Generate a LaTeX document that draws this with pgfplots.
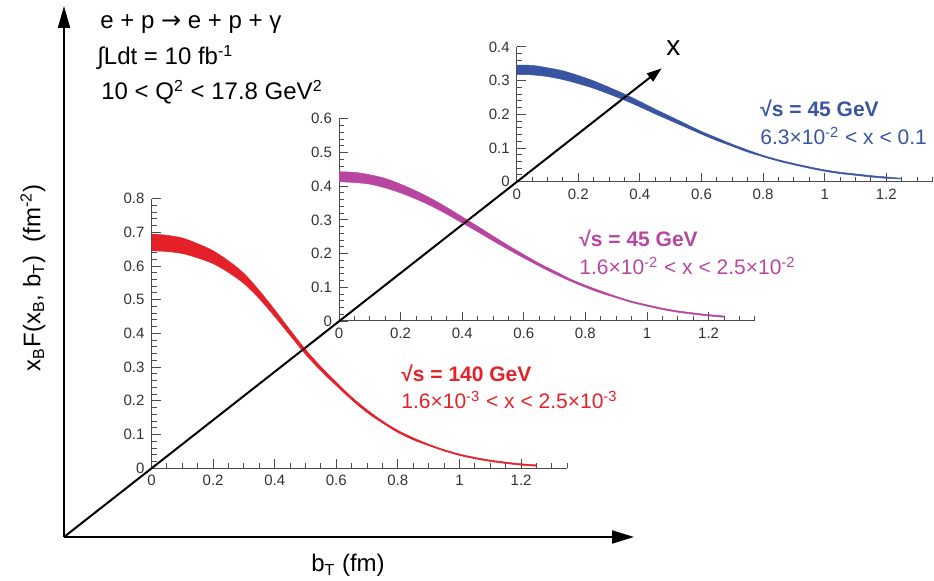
\documentclass[border=0pt]{standalone}
\usepackage{fontspec}
\setmainfont{Liberation Sans}
\newfontfamily\dejavu{DejaVu Sans}
\usepackage{pgfplots}
\pgfplotsset{compat=1.18}
\usepackage{pgfplotstable}
\usepgfplotslibrary{fillbetween}
\usetikzlibrary{arrows.meta}
\definecolor{cred}{RGB}{228,32,40}
\definecolor{cmag}{RGB}{184,70,160}
\definecolor{cblue}{RGB}{58,84,164}

% sqrt(s)=140 GeV, 1.6e-3 < x < 2.5e-3
\pgfplotstableread{
x lo hi
0 0.645 0.695
0.05 0.643 0.691
0.1 0.637 0.683
0.15 0.624 0.666
0.2 0.607 0.645
0.25 0.581 0.615
0.3 0.548 0.578
0.35 0.503 0.527
0.4 0.450 0.470
0.45 0.394 0.410
0.5 0.338 0.352
0.55 0.289 0.301
0.6 0.245 0.255
0.65 0.203 0.211
0.7 0.165 0.173
0.75 0.134 0.140
0.8 0.106 0.112
0.85 0.084 0.090
0.9 0.067 0.071
0.95 0.051 0.055
1.0 0.038 0.042
1.05 0.028 0.032
1.1 0.020 0.024
1.15 0.014 0.018
1.2 0.009 0.013
1.25 0.006 0.010
}\redtab

% sqrt(s)=45 GeV, 1.6e-2 < x < 2.5e-2
\pgfplotstableread{
x lo hi
0 0.413 0.443
0.05 0.411 0.441
0.1 0.406 0.434
0.15 0.395 0.423
0.2 0.380 0.406
0.25 0.362 0.386
0.3 0.341 0.363
0.35 0.317 0.337
0.4 0.291 0.309
0.45 0.265 0.281
0.5 0.238 0.252
0.55 0.212 0.224
0.6 0.187 0.197
0.65 0.163 0.171
0.7 0.140 0.148
0.75 0.119 0.125
0.8 0.100 0.106
0.85 0.083 0.089
0.9 0.069 0.073
0.95 0.055 0.059
1.0 0.044 0.048
1.05 0.034 0.038
1.1 0.026 0.030
1.15 0.020 0.024
1.2 0.015 0.019
1.25 0.011 0.015
}\magtab

% sqrt(s)=45 GeV, 6.3e-2 < x < 0.1
\pgfplotstableread{
x lo hi
0 0.318 0.346
0.05 0.317 0.345
0.1 0.312 0.338
0.15 0.303 0.329
0.2 0.291 0.315
0.25 0.277 0.299
0.3 0.260 0.280
0.35 0.242 0.260
0.4 0.222 0.238
0.45 0.201 0.215
0.5 0.181 0.193
0.55 0.161 0.171
0.6 0.141 0.149
0.65 0.122 0.130
0.7 0.105 0.111
0.75 0.088 0.094
0.8 0.074 0.078
0.85 0.061 0.065
0.9 0.050 0.054
0.95 0.040 0.044
1.0 0.031 0.035
1.05 0.024 0.028
1.1 0.019 0.023
1.15 0.014 0.018
1.2 0.010 0.014
1.25 0.008 0.010
}\bluetab

\pgfplotsset{
  mini/.style={
    x=154pt, y=168.5pt,
    xmin=0, xmax=1.35, ymin=0,
    enlargelimits=false,
    axis lines=left,
    axis line style={-, black!70, line width=0.5pt},
    xtick={0,0.2,0.4,0.6,0.8,1,1.2},
    minor xtick={0.05,0.1,0.15,0.25,0.3,0.35,0.45,0.5,0.55,0.65,0.7,0.75,0.85,0.9,0.95,1.05,1.1,1.15,1.25,1.3,1.35},
    minor y tick num=4,
    tick align=inside,
    major tick length=4.5pt, minor tick length=2.5pt,
    every tick/.style={black!70, line width=0.45pt},
    ticklabel style={font=\fontsize{7.5}{8}\selectfont, text=black!80},
    /pgf/number format/assume math mode=true,
    clip=false,
    anchor=south west,
  },
  band/.style={line width=0.25pt, smooth, #1},
}

\begin{document}
\begin{tikzpicture}[x=0.5pt,y=0.5pt]

% main frame arrows
\draw[line width=1pt, -{Triangle[length=11pt,width=6pt]}] (64,44) -- (64,575);
\draw[line width=1pt, -{Triangle[length=11pt,width=6.5pt]}] (64,44) -- (634,44);
\draw[line width=1pt, -{Triangle[length=7.5pt,width=5pt]}] (64,44) -- (661.7,512.7);

\coordinate (R) at (151.5,112.8);
\coordinate (M) at (339,260);
\coordinate (B) at (516.7,399.3);

% red axis
\begin{axis}[mini, at={(R)}, ymax=0.8, ytick={0,0.1,0.2,0.3,0.4,0.5,0.6,0.7,0.8}]
  \addplot[band=cred, name path=ru] table[x=x,y=hi]{\redtab};
  \addplot[band=cred, name path=rl] table[x=x,y=lo]{\redtab};
  \addplot[cred] fill between[of=ru and rl];
\end{axis}

% magenta axis
\begin{axis}[mini, at={(M)}, ymax=0.6, ytick={0,0.1,0.2,0.3,0.4,0.5,0.6}]
  \addplot[band=cmag, name path=mu] table[x=x,y=hi]{\magtab};
  \addplot[band=cmag, name path=ml] table[x=x,y=lo]{\magtab};
  \addplot[cmag] fill between[of=mu and ml];
\end{axis}

% blue axis
\begin{axis}[mini, at={(B)}, ymax=0.4, ytick={0,0.1,0.2,0.3,0.4}]
  \addplot[band=cblue, name path=bu] table[x=x,y=hi]{\bluetab};
  \addplot[band=cblue, name path=bl] table[x=x,y=lo]{\bluetab};
  \addplot[cblue] fill between[of=bu and bl];
\end{axis}

% header text
\node[anchor=base west, inner sep=0pt, font=\fontsize{12}{14}\selectfont] at (100,552) {e + p {\dejavu →} e + p + γ};
\node[anchor=base west, inner sep=0pt, font=\fontsize{12}{14}\selectfont] at (97,516) {∫Ldt = 10 fb\textsuperscript{-1}};
\node[anchor=base west, inner sep=0pt, font=\fontsize{12}{14}\selectfont] at (101,481) {10 < Q\textsuperscript{2} < 17.8 GeV\textsuperscript{2}};

% axis labels
\node[rotate=90, inner sep=0pt, font=\fontsize{12}{14}\selectfont] at (33,303) {x\textsubscript{B}F(x\textsubscript{B}, b\textsubscript{T})~~(fm\textsuperscript{-2})};
\node[anchor=base, inner sep=0pt, font=\fontsize{12}{14}\selectfont] at (348,9) {b\textsubscript{T} (fm)};
\node[anchor=base west, inner sep=0pt, font=\fontsize{14}{16}\selectfont] at (666,525) {x};

% series labels
\node[anchor=base west, inner sep=0pt, text=cred, font=\fontsize{10.5}{12}\bfseries] at (401,199) {√s = 140 GeV};
\node[anchor=base west, inner sep=0pt, text=cred, font=\fontsize{10.5}{12}\selectfont] at (401,172) {1.6×10\textsuperscript{-3} < x < 2.5×10\textsuperscript{-3}};
\node[anchor=base west, inner sep=0pt, text=cmag, font=\fontsize{10.5}{12}\bfseries] at (579,334) {√s = 45 GeV};
\node[anchor=base west, inner sep=0pt, text=cmag, font=\fontsize{10.5}{12}\selectfont] at (579,306) {1.6×10\textsuperscript{-2} < x < 2.5×10\textsuperscript{-2}};
\node[anchor=base west, inner sep=0pt, text=cblue, font=\fontsize{10.5}{12}\bfseries] at (760,464) {√s = 45 GeV};
\node[anchor=base west, inner sep=0pt, text=cblue, font=\fontsize{10.5}{12}\selectfont] at (760,436) {6.3×10\textsuperscript{-2} < x < 0.1};

\pgfresetboundingbox
\path[use as bounding box] (0,0) rectangle (934,581);
\end{tikzpicture}
\end{document}
